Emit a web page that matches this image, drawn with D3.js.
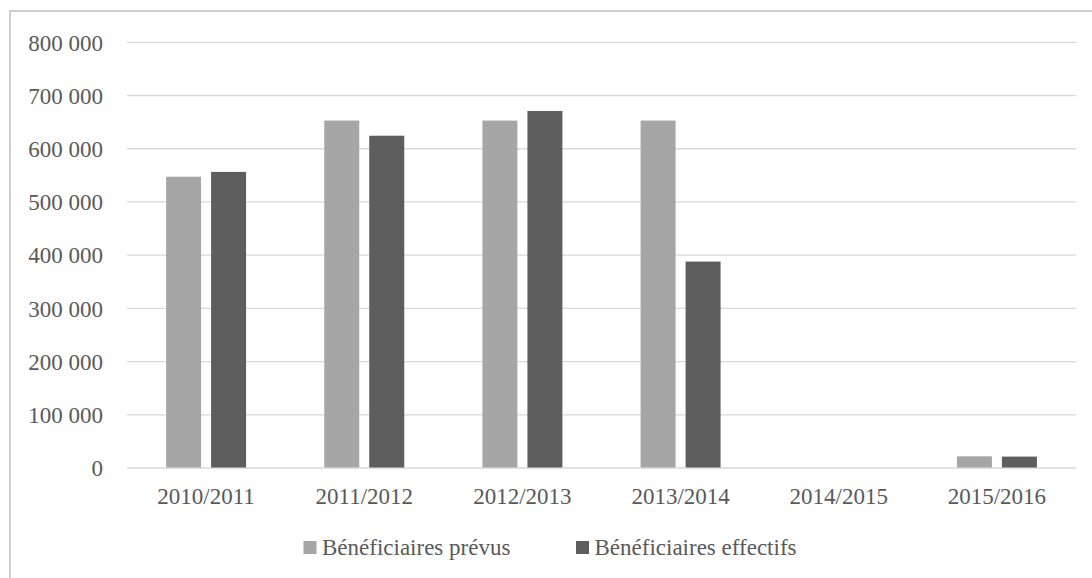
<!DOCTYPE html>
<html>
<head>
<meta charset="utf-8">
<script src="https://cdn.jsdelivr.net/npm/d3@7"></script>
<style>
  html, body { margin: 0; padding: 0; background: #fff; }
  svg { display: block; }
  svg text { font-family: "Liberation Serif", "Times New Roman", serif; }
</style>
</head>
<body>
<svg id="chart" width="1092" height="578"></svg>
<script>
// Campaign years
const categories = ["2010/2011", "2011/2012", "2012/2013", "2013/2014", "2014/2015", "2015/2016"];
// Planned beneficiaries per year
const prevus = [546500, 652000, 652000, 652000, 0, 21000];
// Actual beneficiaries per year
const effectifs = [555500, 623500, 670000, 387000, 0, 20500];
// Y axis ticks
const yTicks = [0, 100000, 200000, 300000, 400000, 500000, 600000, 700000, 800000];
const seriesNames = ["Bénéficiaires prévus", "Bénéficiaires effectifs"];
const seriesColors = ["#a6a6a6", "#5e5e5e"];

const svg = d3.select("#chart");
const W = 1092, H = 578;
const plot = { left: 127, right: 1076, top: 41.8, bottom: 467.5 };
const textColor = "#595959";
const fontSize = 23;
const serif = "'Liberation Serif', 'Times New Roman', serif";

// Outer chart frame
svg.append("rect")
  .attr("x", 10).attr("y", 11)
  .attr("width", W + 20).attr("height", H + 20)
  .attr("fill", "none").attr("stroke", "#bfbfbf").attr("stroke-width", 1.5);

const x = d3.scaleBand().domain(categories).range([plot.left, plot.right]);
const y = d3.scaleLinear().domain([0, 800000]).range([plot.bottom, plot.top]);

const fmt = v => d3.format(",")(v).replace(/,/g, " ");

// Gridlines + y labels
const yAxis = d3.axisLeft(y).tickValues(yTicks).tickSize(-(plot.right - plot.left)).tickPadding(24).tickFormat(fmt);
const gy = svg.append("g").attr("transform", `translate(${plot.left},0)`).call(yAxis)
  .attr("font-family", serif);
gy.select(".domain").remove();
gy.selectAll(".tick line").attr("stroke", "#d9d9d9").attr("stroke-width", 1.3);
gy.selectAll(".tick text")
  .attr("fill", textColor).attr("font-size", fontSize)
  .style("font-family", serif)
  .attr("dy", "0.36em");

// X labels
const xAxis = d3.axisBottom(x).tickSize(0).tickPadding(20);
const gx = svg.append("g").attr("transform", `translate(0,${plot.bottom})`).call(xAxis)
  .attr("font-family", serif);
gx.select(".domain").remove();
gx.selectAll(".tick text")
  .attr("fill", textColor).attr("font-size", fontSize)
  .style("font-family", serif);

// Bars: two bars per year, 35px wide with a 10px gap, centred in the band
const barW = 35, gap = 10;
const seriesData = [prevus, effectifs];
seriesData.forEach((vals, si) => {
  svg.append("g").selectAll("rect")
    .data(vals.map((v, i) => ({ cat: categories[i], v })))
    .join("rect")
    .attr("x", d => x(d.cat) + x.bandwidth() / 2 + (si === 0 ? -(barW + gap / 2) : gap / 2))
    .attr("width", barW)
    .attr("y", d => y(d.v))
    .attr("height", d => y(0) - y(d.v))
    .attr("fill", seriesColors[si]);
});

// Legend
const legend = svg.append("g");
const legendItems = [
  { name: seriesNames[0], color: seriesColors[0], x: 303.5 },
  { name: seriesNames[1], color: seriesColors[1], x: 576 }
];
legendItems.forEach(it => {
  legend.append("rect").attr("x", it.x).attr("y", 541).attr("width", 13).attr("height", 13).attr("fill", it.color);
  legend.append("text").attr("x", it.x + 18.5).attr("y", 554.5)
    .attr("fill", textColor).attr("font-size", fontSize)
    .style("font-family", serif).text(it.name);
});
</script>
</body>
</html>
